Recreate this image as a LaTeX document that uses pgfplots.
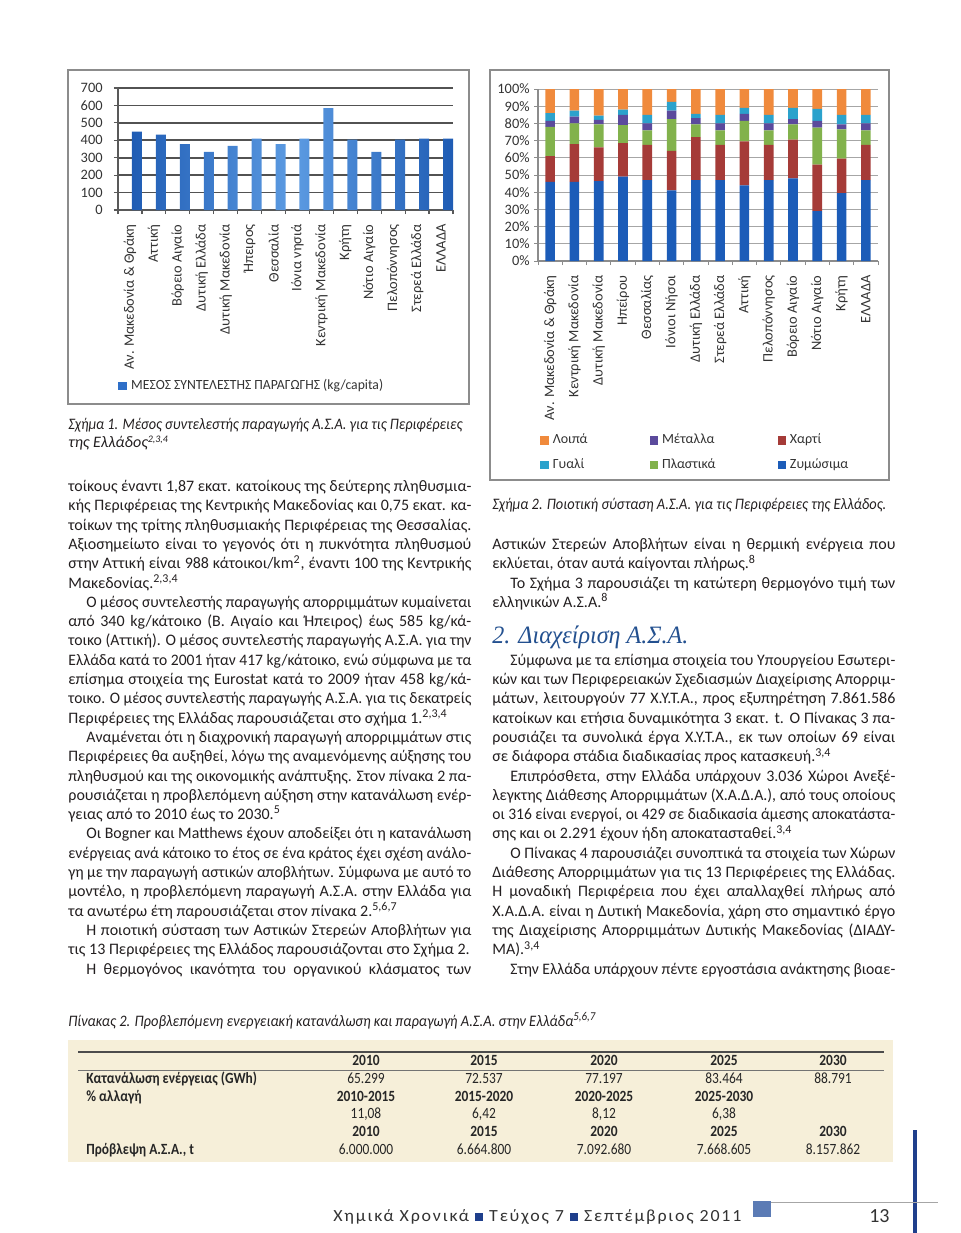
\documentclass[border=0pt]{standalone}
\usepackage{pgfplots}
\usepackage{pgfplotstable}
\pgfplotsset{compat=1.18}
\usepackage{graphicx}
\usepackage{fontspec}
\setmainfont{Carlito}
\newfontfamily\condfont[FakeStretch=0.86]{Carlito}
\newfontfamily\headfont{Liberation Serif}
\newfontfamily\footfont[LetterSpace=10]{Carlito}

\definecolor{txt}{HTML}{231F20}
\definecolor{barD}{HTML}{1F5CB4}
\definecolor{barL}{HTML}{5C9BE2}
\definecolor{barA}{HTML}{2E6FC8}
\definecolor{cZ}{HTML}{1C5CB8}
\definecolor{cX}{HTML}{A53B38}
\definecolor{cP}{HTML}{82B24C}
\definecolor{cM}{HTML}{5B4A9C}
\definecolor{cG}{HTML}{2BA2CC}
\definecolor{cL}{HTML}{F08A3C}
\definecolor{framec}{HTML}{8C8C8C}
\definecolor{beige}{HTML}{F6EFD9}
\definecolor{headblue}{HTML}{23508F}
\definecolor{footblue}{HTML}{1F3F8C}
\definecolor{sqblue}{HTML}{5B7BB5}

\newsavebox\lbox
\newcommand\jl[2]{\sbox\lbox{#2}\ifdim\wd\lbox>#1\relax\resizebox{#1}{\height}{\usebox\lbox}\else\makebox[#1][s]{#2}\fi}
\newcommand\fw[2]{\resizebox{#1}{\height}{#2}}
\newcommand\bodyfont{\fontsize{8}{9.6}\selectfont}
\newcommand\sups[1]{\textsuperscript{#1}}
\newcommand\smallsup[1]{\raisebox{2.2pt}{\fontsize{5}{5}\selectfont #1}}
\newcommand\J[4]{\node[tn] at (#1,{491.5+19.3*(#2-1)}) {\jl{#3}{#4}};}
\newcommand\N[3]{\node[tn] at (#1,{491.5+19.3*(#2-1)}) {#3};}

\pgfplotstableread{
x v
0 450
1 432
2 378
3 333
4 368
5 410
6 378
7 410
8 585
9 404
10 333
11 404
12 410
13 410
}\prodtable

\pgfplotstableread{
x Z X P M G L
0 46 15 17 3.5 4.5 14
1 46 22 12 4 3.5 12.5
2 46.5 19.5 13.5 2.5 2.5 15.5
3 49 19.5 10.5 6 3 12
4 47 20.5 8.5 4 5 15
5 41 23 18.5 5 5 7.5
6 47 25 7.5 3.5 2.5 14.5
7 47 20.5 8.5 4 5 15
8 44 25.5 12 4 3.5 11
9 47 20.5 8.5 4 5 15
10 48 22.5 9 3 6.5 11
11 29 27 21.5 4 7 11.5
12 39.5 20 17 3 5.5 15
13 47 20.5 8.5 4 5 15
}\comptable

\pgfplotsset{
  pagechart/.style={
    scale only axis, anchor=south west,
    xmin=-0.5, xmax=13.5,
    axis x line*=bottom, axis y line*=left,
    xtick={-0.5,0.5,...,13.5},
    x tick label as interval,
    tick align=outside, major tick length=2pt,
    ymajorgrids,
    ticklabel style={font=\fontsize{7.2}{8}\selectfont, text=black!80},
    xticklabel style={rotate=90, anchor=east, inner sep=0pt},
    yticklabel style={anchor=east, inner sep=0pt},
    clip=false,
  }
}

\begin{document}
\begin{tikzpicture}
\useasboundingbox (0,0) rectangle (480pt,-616.5pt);
\begin{scope}[x=0.5pt,y=-0.5pt]
\coordinate (c1) at (118,210);
\coordinate (c2) at (538,261);
\draw[framec, line width=1pt] (68,70) rectangle (469,404);
\draw[framec, line width=1pt] (490,70) rectangle (889,480);
\end{scope}

% ---------- Chart 1 ----------
\begin{axis}[pagechart,
  at={(c1)},
  width=167.5pt, height=61pt,
  ymin=0, ymax=700,
  axis line style={draw=black!65, line width=0.8pt, -},
  tick style={draw=black!65, line width=0.6pt},
  grid style={draw=black!68, line width=0.9pt},
  ytick={0,100,...,700},
  yticklabels={0,100,200,300,400,500,600,700},
  xticklabels={Αν. Μακεδονία \& Θράκη,Αττική,Βόρειο Αιγαίο,Δυτική Ελλάδα,Δυτική Μακεδονία,Ήπειρος,Θεσσαλία,Ιόνια νησιά,Κεντρική Μακεδονία,Κρήτη,Νότιο Αιγαίο,Πελοπόννησος,Στερεά Ελλάδα,ΕΛΛΑΔΑ},
  xticklabel shift=5pt, yticklabel shift=5.5pt,
  ybar, bar width=5pt,
  legend style={at={(0,-1.443)}, anchor=west, draw=none, fill=none, inner sep=0pt,
    font=\fontsize{7}{8}\selectfont, text=black!80},
  legend cell align=left,
  legend image code/.code={\fill[#1] (0pt,-2.2pt) rectangle (4.4pt,2.2pt);},
]
\addplot[draw=none, left color=barD, right color=barD, middle color=barL, forget plot] table[x=x,y=v]{\prodtable};
\addlegendimage{fill=barA, draw=none}
\addlegendentry{\fw{126pt}{ΜΕΣΟΣ ΣΥΝΤΕΛΕΣΤΗΣ ΠΑΡΑΓΩΓΗΣ (kg/capita)}}
\end{axis}

% ---------- Chart 2 ----------
\begin{axis}[pagechart,
  at={(c2)},
  width=170pt, height=86pt,
  ymin=0, ymax=100,
  axis line style={draw=black!45, line width=0.6pt, -},
  tick style={draw=black!45, line width=0.5pt},
  grid style={draw=black!35, line width=0.5pt},
  ytick={0,10,...,100},
  yticklabels={0\%,10\%,20\%,30\%,40\%,50\%,60\%,70\%,80\%,90\%,100\%},
  xticklabels={Αν. Μακεδονία \& Θράκη,Κεντρική Μακεδονία,Δυτική Μακεδονία,Ηπείρου,Θεσσαλίας,Ιόνιοι Νήσοι,Δυτική Ελλάδα,Στερεά Ελλάδα,Αττική,Πελοπόννησος,Βόρειο Αιγαίο,Νότιο Αιγαίο,Κρήτη,ΕΛΛΑΔΑ},
  xticklabel shift=5pt, yticklabel shift=2pt,
  ybar stacked, bar width=4.8pt,
  legend columns=3,
  legend style={at={(0.006,-0.98)}, anchor=north west, draw=none, fill=none, inner sep=0pt,
    row sep=2pt, font=\fontsize{7}{8}\selectfont, text=black!80,
    /tikz/every even column/.append style={column sep=29pt}},
  legend cell align=left,
  legend image code/.code={\fill[#1] (0pt,-2.1pt) rectangle (4.2pt,2.1pt);},
]
\addplot[draw=none, fill=cZ, forget plot] table[x=x,y=Z]{\comptable};
\addplot[draw=none, fill=cX, forget plot] table[x=x,y=X]{\comptable};
\addplot[draw=none, fill=cP, forget plot] table[x=x,y=P]{\comptable};
\addplot[draw=none, fill=cM, forget plot] table[x=x,y=M]{\comptable};
\addplot[draw=none, fill=cG, forget plot] table[x=x,y=G]{\comptable};
\addplot[draw=none, fill=cL, forget plot] table[x=x,y=L]{\comptable};
\addlegendimage{fill=cL, draw=none}\addlegendentry{Λοιπά}
\addlegendimage{fill=cM, draw=none}\addlegendentry{Μέταλλα}
\addlegendimage{fill=cX, draw=none}\addlegendentry{Χαρτί}
\addlegendimage{fill=cG, draw=none}\addlegendentry{Γυαλί}
\addlegendimage{fill=cP, draw=none}\addlegendentry{Πλαστικά}
\addlegendimage{fill=cZ, draw=none}\addlegendentry{Ζυμώσιμα}
\end{axis}

% ---------- Text ----------
\begin{scope}[x=0.5pt,y=-0.5pt, tn/.style={anchor=base west, inner sep=0pt, font=\bodyfont, text=txt}]
% captions
\node[tn, font=\bodyfont\itshape] at (68,429) {\fw{197pt}{Σχήμα 1. Μέσος συντελεστής παραγωγής Α.Σ.Α. για τις Περιφέρειες}};
\node[tn, font=\bodyfont\itshape] at (68,447) {της Ελλάδος\smallsup{2,3,4}};
\node[tn, font=\bodyfont\itshape] at (492,509) {\fw{197pt}{Σχήμα 2. Ποιοτική σύσταση Α.Σ.Α. για τις Περιφέρειες της Ελλάδος.}};

% left column
\J{68}{1}{201.5pt}{τοίκους έναντι 1,87 εκατ. κατοίκους της δεύτερης πληθυσμια-}
\J{68}{2}{201.5pt}{κής Περιφέρειας της Κεντρικής Μακεδονίας και 0,75 εκατ. κα-}
\J{68}{3}{201.5pt}{τοίκων της τρίτης πληθυσμιακής Περιφέρειας της Θεσσαλίας.}
\J{68}{4}{201.5pt}{Αξιοσημείωτο είναι το γεγονός ότι η πυκνότητα πληθυσμού}
\J{68}{5}{201.5pt}{στην Αττική είναι 988 κάτοικοι/km\sups{2}, έναντι 100 της Κεντρικής}
\N{68}{6}{Μακεδονίας.\sups{2,3,4}}
\J{86}{7}{192.5pt}{Ο μέσος συντελεστής παραγωγής απορριμμάτων κυμαίνεται}
\J{68}{8}{201.5pt}{από 340 kg/κάτοικο (Β. Αιγαίο και Ήπειρος) έως 585 kg/κά-}
\J{68}{9}{201.5pt}{τοικο (Αττική). Ο μέσος συντελεστής παραγωγής Α.Σ.Α. για την}
\J{68}{10}{201.5pt}{Ελλάδα κατά το 2001 ήταν 417 kg/κάτοικο, ενώ σύμφωνα με τα}
\J{68}{11}{201.5pt}{επίσημα στοιχεία της Eurostat κατά το 2009 ήταν 458 kg/κά-}
\J{68}{12}{201.5pt}{τοικο. Ο μέσος συντελεστής παραγωγής Α.Σ.Α. για τις δεκατρείς}
\N{68}{13}{Περιφέρειες της Ελλάδας παρουσιάζεται στο σχήμα 1.\sups{2,3,4}}
\J{86}{14}{192.5pt}{Αναμένεται ότι η διαχρονική παραγωγή απορριμμάτων στις}
\J{68}{15}{201.5pt}{Περιφέρειες θα αυξηθεί, λόγω της αναμενόμενης αύξησης του}
\J{68}{16}{201.5pt}{πληθυσμού και της οικονομικής ανάπτυξης. Στον πίνακα 2 πα-}
\J{68}{17}{201.5pt}{ρουσιάζεται η προβλεπόμενη αύξηση στην κατανάλωση ενέρ-}
\N{68}{18}{γειας από το 2010 έως το 2030.\sups{5}}
\J{86}{19}{192.5pt}{Οι Bogner και Matthews έχουν αποδείξει ότι η κατανάλωση}
\J{68}{20}{201.5pt}{ενέργειας ανά κάτοικο το έτος σε ένα κράτος έχει σχέση ανάλο-}
\J{68}{21}{201.5pt}{γη με την παραγωγή αστικών αποβλήτων. Σύμφωνα με αυτό το}
\J{68}{22}{201.5pt}{μοντέλο, η προβλεπόμενη παραγωγή Α.Σ.Α. στην Ελλάδα για}
\N{68}{23}{τα ανωτέρω έτη παρουσιάζεται στον πίνακα 2.\sups{5,6,7}}
\J{86}{24}{192.5pt}{Η ποιοτική σύσταση των Αστικών Στερεών Αποβλήτων για}
\N{68}{25}{τις 13 Περιφέρειες της Ελλάδος παρουσιάζονται στο Σχήμα 2.}
\J{86}{26}{192.5pt}{Η θερμογόνος ικανότητα του οργανικού κλάσματος των}

% right column
\J{492}{4}{201.5pt}{Αστικών Στερεών Αποβλήτων είναι η θερμική ενέργεια που}
\N{492}{5}{εκλύεται, όταν αυτά καίγονται πλήρως.\sups{8}}
\J{510}{6}{192.5pt}{Το Σχήμα 3 παρουσιάζει τη κατώτερη θερμογόνο τιμή των}
\N{492}{7}{ελληνικών Α.Σ.Α.\sups{8}}
\node[anchor=base west, inner sep=0pt, text=headblue, font=\headfont\itshape\fontsize{12.5}{14}\selectfont] at (492,643) {\fw{98pt}{2. Διαχείριση Α.Σ.Α.}};
\J{510}{10}{192.5pt}{Σύμφωνα με τα επίσημα στοιχεία του Υπουργείου Εσωτερι-}
\J{492}{11}{201.5pt}{κών και των Περιφερειακών Σχεδιασμών Διαχείρισης Απορριμ-}
\J{492}{12}{201.5pt}{μάτων, λειτουργούν 77 Χ.Υ.Τ.Α., προς εξυπηρέτηση 7.861.586}
\J{492}{13}{201.5pt}{κατοίκων και ετήσια δυναμικότητα 3 εκατ. t. Ο Πίνακας 3 πα-}
\J{492}{14}{201.5pt}{ρουσιάζει τα συνολικά έργα Χ.Υ.Τ.Α., εκ των οποίων 69 είναι}
\N{492}{15}{σε διάφορα στάδια διαδικασίας προς κατασκευή.\sups{3,4}}
\J{510}{16}{192.5pt}{Επιπρόσθετα, στην Ελλάδα υπάρχουν 3.036 Χώροι Ανεξέ-}
\J{492}{17}{201.5pt}{λεγκτης Διάθεσης Απορριμμάτων (Χ.Α.Δ.Α.), από τους οποίους}
\J{492}{18}{201.5pt}{οι 316 είναι ενεργοί, οι 429 σε διαδικασία άμεσης αποκατάστα-}
\N{492}{19}{σης και οι 2.291 έχουν ήδη αποκατασταθεί.\sups{3,4}}
\J{510}{20}{192.5pt}{Ο Πίνακας 4 παρουσιάζει συνοπτικά τα στοιχεία των Χώρων}
\J{492}{21}{201.5pt}{Διάθεσης Απορριμμάτων για τις 13 Περιφέρειες της Ελλάδας.}
\J{492}{22}{201.5pt}{Η μοναδική Περιφέρεια που έχει απαλλαχθεί πλήρως από}
\J{492}{23}{201.5pt}{Χ.Α.Δ.Α. είναι η Δυτική Μακεδονία, χάρη στο σημαντικό έργο}
\J{492}{24}{201.5pt}{της Διαχείρισης Απορριμμάτων Δυτικής Μακεδονίας (ΔΙΑΔΥ-}
\N{492}{25}{ΜΑ).\sups{3,4}}
\J{510}{26}{192.5pt}{Στην Ελλάδα υπάρχουν πέντε εργοστάσια ανάκτησης βιοαε-}

% table
\node[tn, font=\condfont\itshape\fontsize{8}{9}\selectfont] at (68,1026) {\fw{264pt}{Πίνακας 2. Προβλεπόμενη ενεργειακή κατανάλωση και παραγωγή Α.Σ.Α. στην Ελλάδα\sups{5,6,7}}};
\fill[beige] (68,1040) rectangle (893,1162);
\draw[black!70, line width=1pt] (78,1052) -- (884,1052);
\draw[black!55, line width=0.5pt] (78,1070) -- (884,1070);
\begin{scope}[tb/.style={anchor=base, inner sep=0pt, font=\condfont\fontsize{7.8}{9}\selectfont, text=black!85},
              tbb/.style={tb, font=\condfont\bfseries\fontsize{7.8}{9}\selectfont}]
\node[tbb] at (366,1065) {2010}; \node[tbb] at (484,1065) {2015}; \node[tbb] at (604,1065) {2020}; \node[tbb] at (724,1065) {2025}; \node[tbb] at (833,1065) {2030};
\node[tbb, anchor=base west] at (86,1083) {Κατανάλωση ενέργειας (GWh)};
\node[tb] at (366,1083) {65.299}; \node[tb] at (484,1083) {72.537}; \node[tb] at (604,1083) {77.197}; \node[tb] at (724,1083) {83.464}; \node[tb] at (833,1083) {88.791};
\node[tbb, anchor=base west] at (86,1101) {\% αλλαγή};
\node[tbb] at (366,1101) {2010-2015}; \node[tbb] at (484,1101) {2015-2020}; \node[tbb] at (604,1101) {2020-2025}; \node[tbb] at (724,1101) {2025-2030};
\node[tb] at (366,1118) {11,08}; \node[tb] at (484,1118) {6,42}; \node[tb] at (604,1118) {8,12}; \node[tb] at (724,1118) {6,38};
\node[tbb] at (366,1136) {2010}; \node[tbb] at (484,1136) {2015}; \node[tbb] at (604,1136) {2020}; \node[tbb] at (724,1136) {2025}; \node[tbb] at (833,1136) {2030};
\node[tbb, anchor=base west] at (86,1154) {Πρόβλεψη Α.Σ.Α., t};
\node[tb] at (366,1154) {6.000.000}; \node[tb] at (484,1154) {6.664.800}; \node[tb] at (604,1154) {7.092.680}; \node[tb] at (724,1154) {7.668.605}; \node[tb] at (833,1154) {8.157.862};
\end{scope}

% footer
\fill[footblue] (913,1130) rectangle (917,1233);
\draw[black!35, line width=0.5pt] (771,1202) -- (938,1202);
\fill[sqblue] (753,1201) rectangle (771,1217);
\node[anchor=base west, inner sep=0pt, font=\footfont\fontsize{8.5}{10}\selectfont, text=black!80] at (333,1221) {\fw{204pt}{Χημικά Χρονικά \textcolor{footblue}{\rule{4pt}{4pt}} Τεύχος 7 \textcolor{footblue}{\rule{4pt}{4pt}} Σεπτέμβριος 2011}};
\node[anchor=base east, inner sep=0pt, font=\fontsize{10}{12}\selectfont, text=black!80] at (890,1222) {13};
\end{scope}
\end{tikzpicture}
\end{document}
